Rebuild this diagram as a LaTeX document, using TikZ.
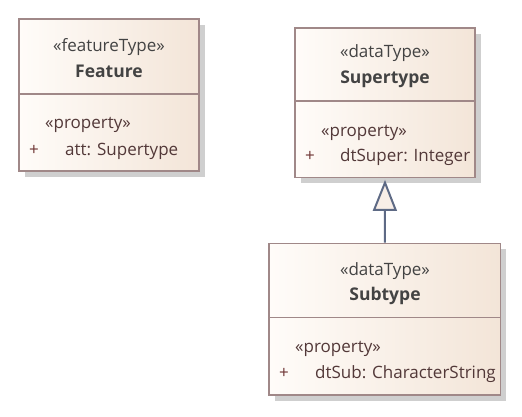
\documentclass[tikz,border=0pt]{standalone}
\usepackage{fontspec}
\setmainfont{Open Sans}
\usetikzlibrary{arrows.meta,shadows}
\definecolor{umlborder}{HTML}{A08888}
\definecolor{fillL}{HTML}{FFFCF9}
\definecolor{fillR}{HTML}{F3E5D8}
\definecolor{shadowgrey}{HTML}{CFCFCF}
\definecolor{headtext}{HTML}{434343}
\definecolor{attrtext}{HTML}{523838}
\definecolor{plustext}{HTML}{6E3434}
\definecolor{genline}{HTML}{5E6A85}
\definecolor{trifill}{HTML}{F8EEE7}
\begin{document}
\begin{tikzpicture}[x=1pt,y=-1pt,
  classbox/.style={draw=umlborder, line width=1.8pt, rectangle, inner sep=0pt,
    left color=fillL, right color=fillR,
    drop shadow={shadow xshift=5.5pt, shadow yshift=-5.5pt, fill=shadowgrey, opacity=1}},
  divider/.style={draw=umlborder, line width=1.8pt},
  stereo/.style={anchor=base, text=headtext, inner sep=0pt, font=\fontsize{17}{20}\selectfont},
  cname/.style={anchor=base, text=headtext, inner sep=0pt, font=\fontsize{17.5}{20}\selectfont\bfseries},
  prop/.style={anchor=base west, text=attrtext, inner sep=0pt, font=\fontsize{17}{20}\selectfont},
  plus/.style={anchor=base, text=plustext, inner sep=0pt, font=\fontsize{17}{20}\selectfont},
  gen/.style={draw=genline, line width=2pt, -{Triangle[open, length=31pt, width=24pt, fill=trifill]}, shorten >=1.5pt}
]
\path[use as bounding box] (0,0) rectangle (522,416);

% Feature
\node[classbox, minimum width=180pt, minimum height=152pt] (feature) at (109,95) {};
\coordinate (fdl) at (19,94);
\coordinate (fdr) at (199,94);
\draw[divider] (fdl) -- (fdr);
\node[stereo] (fst) at (109,51) {«featureType»};
\node[cname] (fname) at (109,77) {Feature};
\node[prop] (fprop) at (45,128) {«property»};
\node[plus] (fplus) at (34,155.5) {+};
\node[prop] (fattr) at (65,155.5) {att: Supertype};

% Supertype
\node[classbox, minimum width=180pt, minimum height=149.5pt] (supertype) at (385,102.75) {};
\coordinate (sdl) at (295,101);
\coordinate (sdr) at (475,101);
\draw[divider] (sdl) -- (sdr);
\node[stereo] (sst) at (385,57.5) {«dataType»};
\node[cname] (sname) at (385,83.5) {Supertype};
\node[prop] (sprop) at (321,136) {«property»};
\node[plus] (splus) at (310,161.5) {+};
\node[prop] (sattr) at (340,161.5) {dtSuper: Integer};

% Subtype
\node[classbox, minimum width=231.5pt, minimum height=151.5pt] (subtype) at (384.75,319.25) {};
\coordinate (bdl) at (269,317.5);
\coordinate (bdr) at (500.5,317.5);
\draw[divider] (bdl) -- (bdr);
\node[stereo] (bst) at (385,275) {«dataType»};
\node[cname] (bname) at (385,300.5) {Subtype};
\node[prop] (bprop) at (295,352) {«property»};
\node[plus] (bplus) at (284,378.5) {+};
\node[prop] (battr) at (315,378.5) {dtSub: CharacterString};

% Generalization
\draw[gen] (subtype.north) -- (supertype.south);
\end{tikzpicture}
\end{document}
